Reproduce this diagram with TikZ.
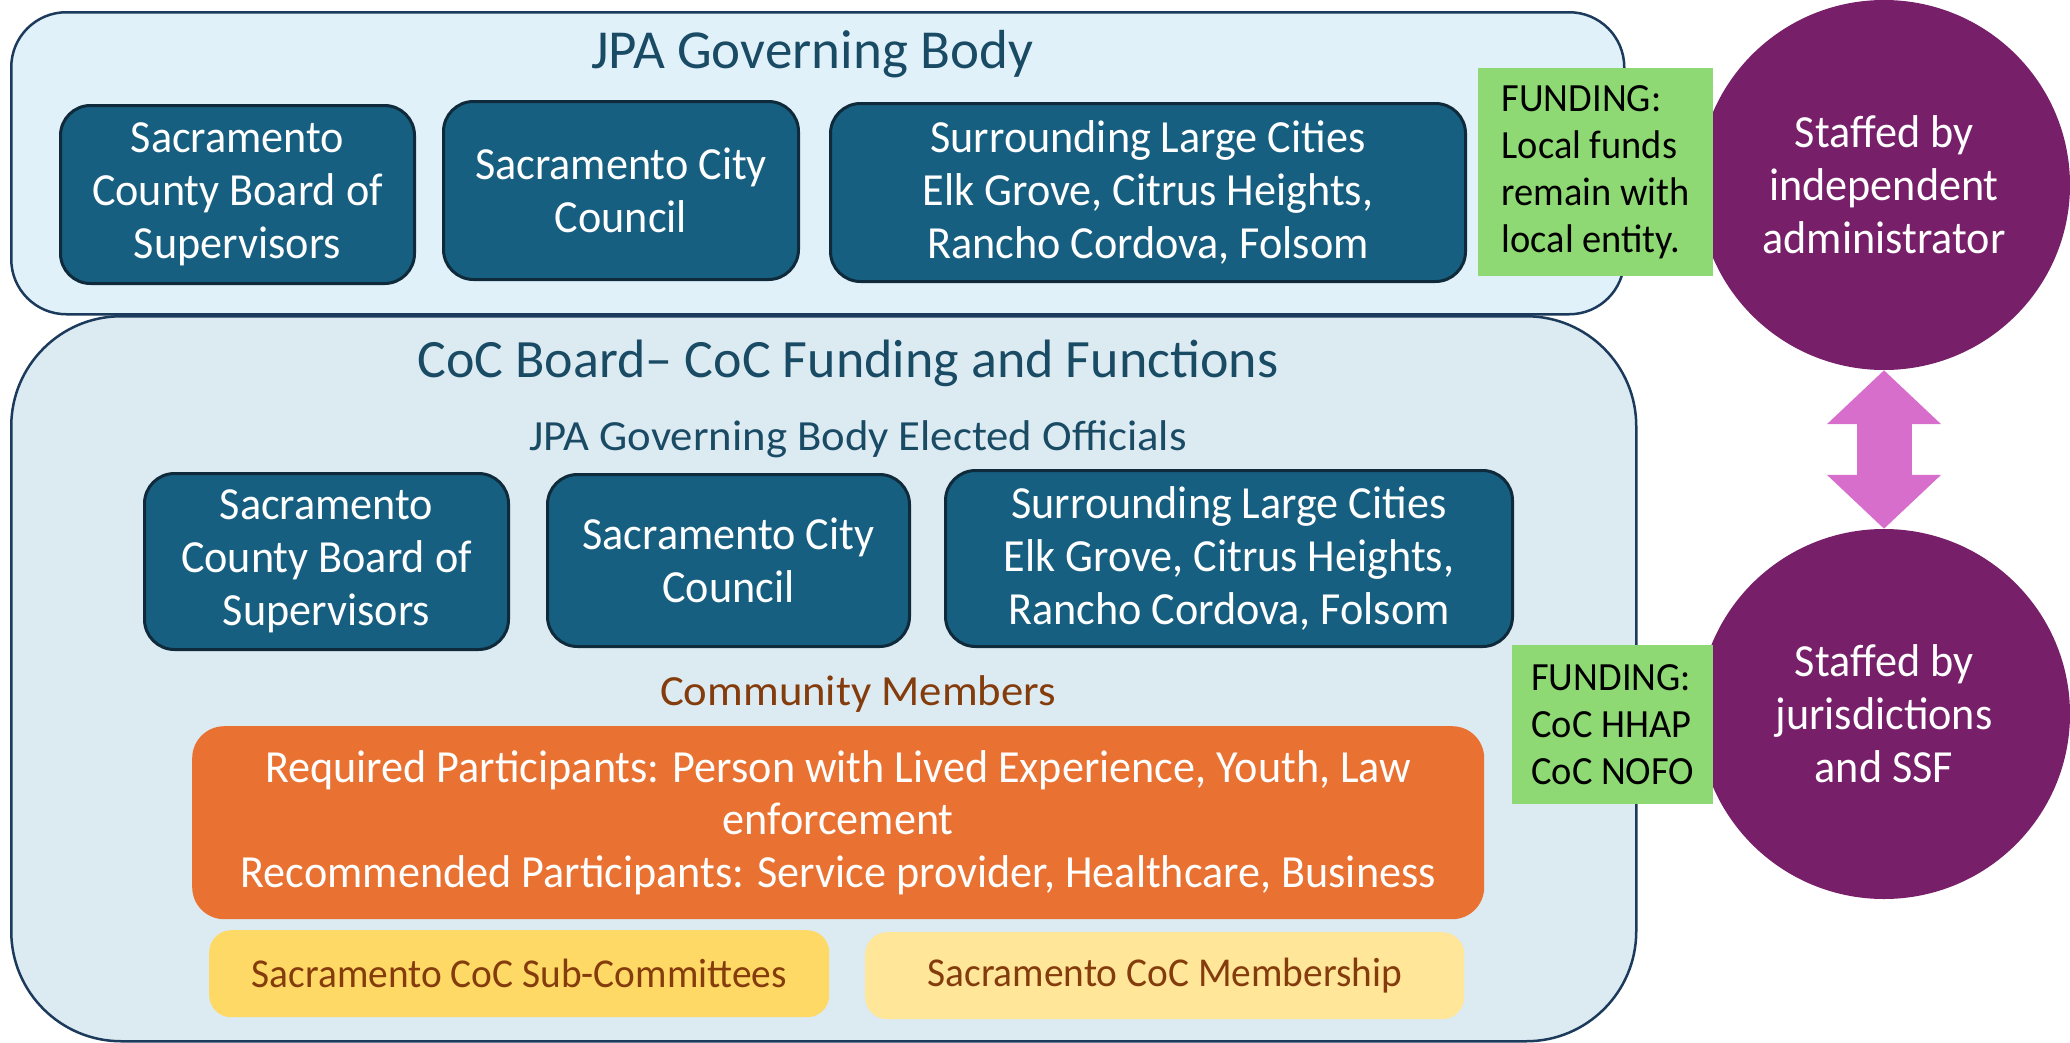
\documentclass[tikz,border=0pt]{standalone}
\usepackage{fontspec}
\setmainfont[FakeStretch=0.96]{Carlito}
\newfontfamily\titlefam{Carlito}
\newfontfamily\widefam[FakeStretch=1.04]{Carlito}
\usetikzlibrary{shapes.geometric,arrows.meta}
\definecolor{topfill}{HTML}{E1F1FA}
\definecolor{botfill}{HTML}{DCEAF2}
\definecolor{navyb}{HTML}{1B3A5C}
\definecolor{boxblue}{HTML}{175F80}
\definecolor{darkedge}{HTML}{0F2A3A}
\definecolor{titlec}{HTML}{1A4B65}
\definecolor{brownc}{HTML}{843C0C}
\definecolor{orangec}{HTML}{E97132}
\definecolor{yellowa}{HTML}{FFD966}
\definecolor{yellowb}{HTML}{FFE699}
\definecolor{greenc}{HTML}{8ED973}
\definecolor{purplec}{HTML}{781F6A}
\definecolor{pinkc}{HTML}{D86ECC}
\newcommand{\fsz}[2]{\fontsize{#1}{#2}\selectfont}
\begin{document}
\begin{tikzpicture}[x=1pt,y=-1pt,
  outerbox/.style={draw=navyb, line width=2.5pt, anchor=north west, inner sep=0pt},
  darkbox/.style={draw=darkedge, fill=boxblue, line width=3pt, rounded corners=30pt,
    text=white, align=center, font=\fsz{46}{53}, inner sep=0pt, anchor=north west},
  titletext/.style={text=titlec, inner sep=0pt, anchor=base},
  greenbox/.style={fill=greenc, anchor=north west, inner sep=0pt,
    align=left, font=\fsz{40}{47}, text=black},
  staffed/.style={ellipse, fill=purplec, text=white, align=center, font=\fsz{46}{53},
    minimum width=372pt, minimum height=370pt, inner sep=0pt},
  smallbox/.style={rounded corners=22pt, anchor=north west, inner sep=0pt,
    text=brownc, font=\fsz{41}{48}},
  pinkarrow/.style={draw=pinkc, line width=55pt,
    {Triangle[length=54pt,width=111pt]}-{Triangle[length=54pt,width=111pt]}}
]
\useasboundingbox (0,0) rectangle (2070,1042);
\fill[white] (0,0) rectangle (2070,1042);

% outer containers
\node[outerbox, fill=botfill, rounded corners=110pt, minimum width=1625pt, minimum height=725pt] (coc) at (10,315) {};
\node[outerbox, fill=topfill, rounded corners=55pt, minimum width=1613pt, minimum height=302pt] (jpa) at (10,11) {};

% JPA governing body
\node[titletext, font=\titlefam\fsz{55}{66}] (jpat) at (812,68) {JPA Governing Body};
\node[darkbox, minimum width=354pt, minimum height=178pt] (a1) at (59,104) {Sacramento\\County Board of\\Supervisors};
\node[darkbox, minimum width=355pt, minimum height=178pt] (b1) at (442,100) {Sacramento City\\Council};
\node[darkbox, minimum width=635pt, minimum height=178pt] (c1) at (829,102) {Surrounding Large Cities\\Elk Grove, Citrus Heights,\\Rancho Cordova, Folsom};

% CoC board
\node[titletext, font=\titlefam\fsz{54}{66}] (coct) at (848,377) {CoC Board{\textendash} CoC Funding and Functions};
\node[titletext, font=\widefam\fsz{43}{50}] (elect) at (858,450) {JPA Governing Body Elected Officials};
\node[darkbox, minimum width=364pt, minimum height=176pt] (a2) at (143,472) {Sacramento\\County Board of\\Supervisors};
\node[darkbox, minimum width=362pt, minimum height=172pt] (b2) at (546,473) {Sacramento City\\Council};
\node[darkbox, minimum width=567pt, minimum height=176pt] (c2) at (944,469) {Surrounding Large Cities\\Elk Grove, Citrus Heights,\\Rancho Cordova, Folsom};

\node[titletext, text=brownc, font=\widefam\fsz{43}{50}] (comm) at (858,705) {Community Members};
\node[fill=orangec, rounded corners=32pt, anchor=north west, inner sep=0pt,
  minimum width=1292pt, minimum height=193pt, text=white, align=center, font=\fsz{46}{52.5}]
  (req) at (192,726) {Required Participants: Person with Lived Experience, Youth, Law\\enforcement\\Recommended Participants: Service provider, Healthcare, Business};
\node[smallbox, fill=yellowa, minimum width=620pt, minimum height=87pt] (sub) at (209,930) {Sacramento CoC Sub-Committees};
\node[smallbox, fill=yellowb, minimum width=599pt, minimum height=87pt] (mem) at (865,932) {Sacramento CoC Membership};

% staffing ellipses
\node[staffed] (e1) at (1884,185) {Staffed by\\independent\\administrator};
\node[staffed] (e2) at (1884,714) {Staffed by\\jurisdictions\\and SSF};
\draw[pinkarrow] (e1.south) -- (e2.north);

% funding notes
\node[greenbox, minimum width=235pt, minimum height=208pt] (f1) at (1478,68) {FUNDING:\\Local funds\\remain with\\local entity.};
\node[greenbox, minimum width=201pt, minimum height=159pt] (f2) at (1512,645) {FUNDING:\\CoC HHAP\\CoC NOFO};
\end{tikzpicture}
\end{document}
